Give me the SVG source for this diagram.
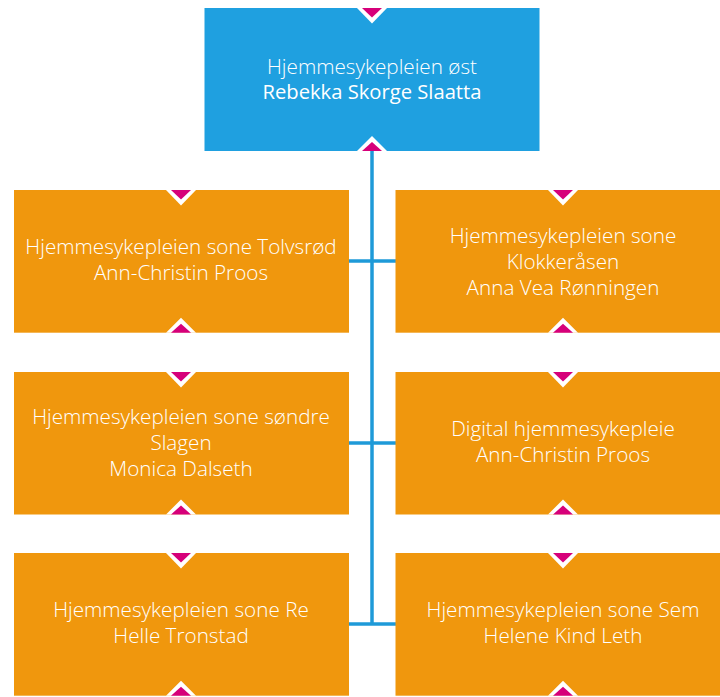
<svg xmlns="http://www.w3.org/2000/svg" xmlns:xlink="http://www.w3.org/1999/xlink" width="720" height="697" viewBox="0 0 720 697">
  <style>
    .top { fill: #1FA0E0; }
    .box { fill: #F0970D; }
    .conn { stroke: #1E9AD8; stroke-width: 3.5; fill: none; }
    text { font-family: "Open Sans", "Noto Sans", "Liberation Sans", sans-serif; font-size: 20.7px; fill: #FFFFFF; text-anchor: middle; }
    .lt { font-weight: 300; }
    .rg { font-weight: 400; font-size: 20.2px; }
    .tw { fill: #FFFFFF; }
    .tm { fill: #D6007A; }
  </style>
  <defs>
    <g id="tri-down">
      <polygon class="tw" points="-15,0 15,0 0,15.5"/>
      <polygon class="tm" points="-10,0 10,0 0,9.5"/>
    </g>
    <g id="tri-up">
      <polygon class="tw" points="-15,0 15,0 0,-15"/>
      <polygon class="tm" points="-10,0 10,0 0,-9"/>
    </g>
  </defs>

  <g id="connectors">
    <line class="conn" x1="372" y1="145" x2="372" y2="624"/>
    <line class="conn" x1="348" y1="261" x2="396" y2="261"/>
    <line class="conn" x1="348" y1="443" x2="396" y2="443"/>
    <line class="conn" x1="348" y1="624" x2="396" y2="624"/>
  </g>

  <g id="node-top">
    <rect class="top" x="204.5" y="8" width="335" height="143"/>
    <use xlink:href="#tri-down" x="372" y="8"/>
    <use xlink:href="#tri-up" x="372" y="151"/>
    <text x="372" y="73.5" class="lt">Hjemmesykepleien øst</text>
    <text x="372" y="99" class="rg">Rebekka Skorge Slaatta</text>
  </g>

  <g id="node-tolvsrod">
    <rect class="box" x="14" y="190" width="335" height="142.7"/>
    <use xlink:href="#tri-down" x="181" y="190"/>
    <use xlink:href="#tri-up" x="181" y="332.7"/>
    <text x="181" y="254" class="lt">Hjemmesykepleien sone Tolvsrød</text>
    <text x="181" y="280" class="lt">Ann-Christin Proos</text>
  </g>

  <g id="node-klokkerasen">
    <rect class="box" x="395.5" y="190" width="335" height="142.7"/>
    <use xlink:href="#tri-down" x="563" y="190"/>
    <use xlink:href="#tri-up" x="563" y="332.7"/>
    <text x="563" y="242.5" class="lt">Hjemmesykepleien sone</text>
    <text x="563" y="268.5" class="lt">Klokkeråsen</text>
    <text x="563" y="294.5" class="lt">Anna Vea Rønningen</text>
  </g>

  <g id="node-sondre-slagen">
    <rect class="box" x="14" y="372" width="335" height="142.5"/>
    <use xlink:href="#tri-down" x="181" y="372"/>
    <use xlink:href="#tri-up" x="181" y="514.5"/>
    <text x="181" y="423.5" class="lt">Hjemmesykepleien sone søndre</text>
    <text x="181" y="449.5" class="lt">Slagen</text>
    <text x="181" y="475.5" class="lt">Monica Dalseth</text>
  </g>

  <g id="node-digital">
    <rect class="box" x="395.5" y="372" width="335" height="142.5"/>
    <use xlink:href="#tri-down" x="563" y="372"/>
    <use xlink:href="#tri-up" x="563" y="514.5"/>
    <text x="563" y="436" class="lt">Digital hjemmesykepleie</text>
    <text x="563" y="462" class="lt">Ann-Christin Proos</text>
  </g>

  <g id="node-re">
    <rect class="box" x="14" y="553" width="335" height="142.7"/>
    <use xlink:href="#tri-down" x="181" y="553"/>
    <use xlink:href="#tri-up" x="181" y="695.7"/>
    <text x="181" y="617" class="lt">Hjemmesykepleien sone Re</text>
    <text x="181" y="643" class="lt">Helle Tronstad</text>
  </g>

  <g id="node-sem">
    <rect class="box" x="395.5" y="553" width="335" height="142.7"/>
    <use xlink:href="#tri-down" x="563" y="553"/>
    <use xlink:href="#tri-up" x="563" y="695.7"/>
    <text x="563" y="617" class="lt">Hjemmesykepleien sone Sem</text>
    <text x="563" y="643" class="lt">Helene Kind Leth</text>
  </g>
</svg>
